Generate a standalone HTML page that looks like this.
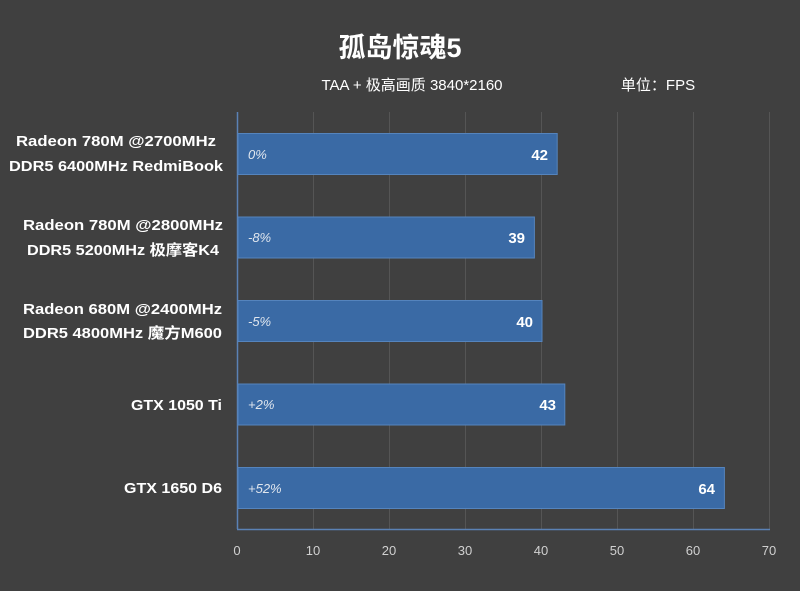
<!DOCTYPE html>
<html><head><meta charset="utf-8"><style>
body{margin:0;width:800px;height:591px;background:#404040;overflow:hidden;font-family:"Liberation Sans","Noto Sans CJK SC",sans-serif;color:#fff}
svg{display:block}
</style></head><body>
<svg width="800" height="591" xmlns="http://www.w3.org/2000/svg" font-family="Liberation Sans, Noto Sans CJK SC, sans-serif">
<rect width="800" height="591" fill="#404040"/>
<text x="400" y="57" text-anchor="middle" font-size="27" font-weight="bold" fill="#fff">孤岛惊魂5</text>
<text x="412" y="90" text-anchor="middle" font-size="15" fill="#fff">TAA + 极高画质 3840*2160</text>
<text x="658" y="90" text-anchor="middle" font-size="15" fill="#fff">单位：FPS</text>
<g stroke="#555" stroke-width="1">
<line x1="313.5" y1="112" x2="313.5" y2="529"/><line x1="389.5" y1="112" x2="389.5" y2="529"/>
<line x1="465.5" y1="112" x2="465.5" y2="529"/><line x1="541.5" y1="112" x2="541.5" y2="529"/>
<line x1="617.5" y1="112" x2="617.5" y2="529"/><line x1="693.5" y1="112" x2="693.5" y2="529"/>
<line x1="769.5" y1="112" x2="769.5" y2="529"/>
</g>
<line x1="237.5" y1="112" x2="237.5" y2="529" stroke="#5b82b5" stroke-width="1.5"/>
<line x1="237" y1="529.5" x2="770" y2="529.5" stroke="#5b82b5" stroke-width="1.5"/>
<g fill="#3a6aa5" stroke="#5584bd" stroke-width="1">
<rect x="238" y="133.5" width="319.2" height="41"/>
<rect x="238" y="217" width="296.4" height="41"/>
<rect x="238" y="300.5" width="304" height="41"/>
<rect x="238" y="384" width="326.8" height="41"/>
<rect x="238" y="467.5" width="486.4" height="41"/>
</g>
<g font-size="13" font-style="italic" fill="#e0e6ee">
<text x="248" y="159">0%</text><text x="248" y="242">-8%</text><text x="248" y="326">-5%</text>
<text x="248" y="409">+2%</text><text x="248" y="493">+52%</text>
</g>
<g font-size="15" font-weight="bold" fill="#fff" text-anchor="end">
<text x="548" y="160">42</text><text x="525" y="243">39</text><text x="533" y="327">40</text>
<text x="556" y="410">43</text><text x="715" y="494">64</text>
</g>
<g font-size="15" font-weight="bold" fill="#fff" lengthAdjust="spacingAndGlyphs">
<text x="16" y="146" textLength="200" lengthAdjust="spacingAndGlyphs">Radeon 780M @2700MHz</text>
<text x="9" y="171" textLength="214" lengthAdjust="spacingAndGlyphs">DDR5 6400MHz RedmiBook</text>
<text x="23" y="230" textLength="200" lengthAdjust="spacingAndGlyphs">Radeon 780M @2800MHz</text>
<text x="27" y="255" textLength="192" lengthAdjust="spacingAndGlyphs">DDR5 5200MHz 极摩客K4</text>
<text x="23" y="314" textLength="199" lengthAdjust="spacingAndGlyphs">Radeon 680M @2400MHz</text>
<text x="23" y="338" textLength="199" lengthAdjust="spacingAndGlyphs">DDR5 4800MHz 魔方M600</text>
<text x="131" y="410" textLength="91" lengthAdjust="spacingAndGlyphs">GTX 1050 Ti</text>
<text x="124" y="493" textLength="98" lengthAdjust="spacingAndGlyphs">GTX 1650 D6</text>
</g>
<g font-size="13" fill="#d0d0d0" text-anchor="middle">
<text x="237" y="555">0</text><text x="313" y="555">10</text><text x="389" y="555">20</text>
<text x="465" y="555">30</text><text x="541" y="555">40</text><text x="617" y="555">50</text>
<text x="693" y="555">60</text><text x="769" y="555">70</text>
</g>
</svg>
</body></html>
